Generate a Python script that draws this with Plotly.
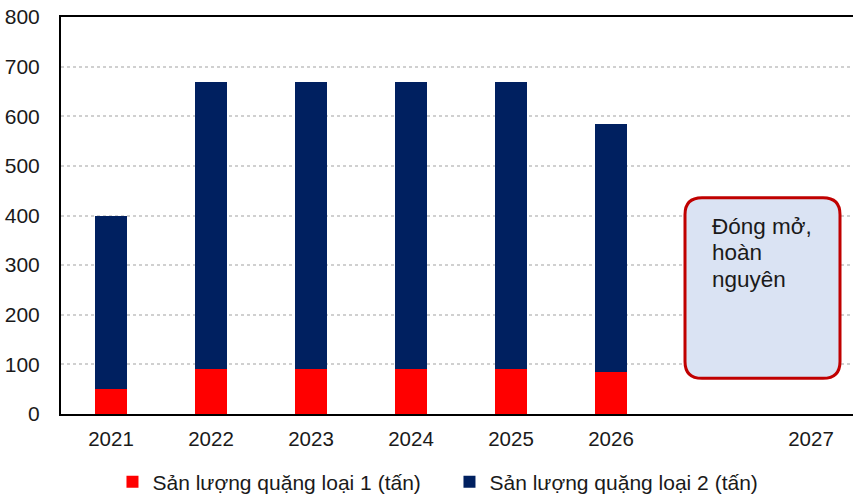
import plotly.graph_objects as go

categories = ["2021", "2022", "2023", "2024", "2025", "2026", " ", "2027"]
loai1 = [50, 90, 90, 90, 90, 84, None, None]
loai2 = [350, 580, 580, 580, 580, 501, None, None]
y_ticks = [0, 100, 200, 300, 400, 500, 600, 700, 800]
box_lines = ["Đóng mở,", "hoàn", "nguyên"]

FONT = "Liberation Sans, Arial, sans-serif"

fig = go.Figure()
fig.add_trace(go.Bar(x=categories, y=loai1, name="Sản lượng quặng loại 1 (tấn)",
                     marker=dict(color="#FF0000", line=dict(width=0)), width=0.32))
fig.add_trace(go.Bar(x=categories, y=loai2, name="Sản lượng quặng loại 2 (tấn)",
                     marker=dict(color="#002060", line=dict(width=0)), width=0.32))

# rounded box annotation (in axis units)
x0, x1 = 5.74, 7.29
y0, y1 = 72, 436
rx, ry = 0.17, 34
path = (f"M {x0+rx},{y1} L {x1-rx},{y1} Q {x1},{y1} {x1},{y1-ry} "
        f"L {x1},{y0+ry} Q {x1},{y0} {x1-rx},{y0} L {x0+rx},{y0} "
        f"Q {x0},{y0} {x0},{y0+ry} L {x0},{y1-ry} Q {x0},{y1} {x0+rx},{y1} Z")
fig.add_shape(type="path", path=path, xref="x", yref="y",
              fillcolor="#DAE3F3", line=dict(color="#C00000", width=3), layer="above")
for i, line in enumerate(box_lines):
    fig.add_annotation(x=5.985, y=408 - i * 54, xref="x", yref="y", text=line, showarrow=False,
                       xanchor="left", yanchor="top", align="left",
                       font=dict(family=FONT, size=22.5, color="#1a1a1a"))

fig.update_layout(
    barmode="stack",
    width=853, height=499,
    margin=dict(l=61, r=0, t=17, b=85, autoexpand=False),
    plot_bgcolor="white", paper_bgcolor="white",
    font=dict(family=FONT, size=20, color="#1a1a1a"),
    showlegend=True,
    legend=dict(orientation="h", x=0.065, xanchor="left", y=-0.12, yanchor="top",
                font=dict(family=FONT, size=21, color="#1a1a1a"),
                itemwidth=30, traceorder="normal", entrywidth=292),
)
fig.update_xaxes(type="category", range=[-0.5, 7.42], showline=True, linecolor="black",
                 linewidth=2, mirror=True, ticks="", showgrid=False,
                 ticklabelstandoff=5, tickfont=dict(size=20.5))
fig.update_yaxes(range=[0, 800], tickvals=y_ticks, showline=True, linecolor="black",
                 linewidth=2, ticks="", showgrid=True, gridcolor="#D0D0D0",
                 griddash="dot", gridwidth=1.5, zeroline=False,
                 ticklabelstandoff=15, tickfont=dict(size=21))

fig.write_html("out.html")
